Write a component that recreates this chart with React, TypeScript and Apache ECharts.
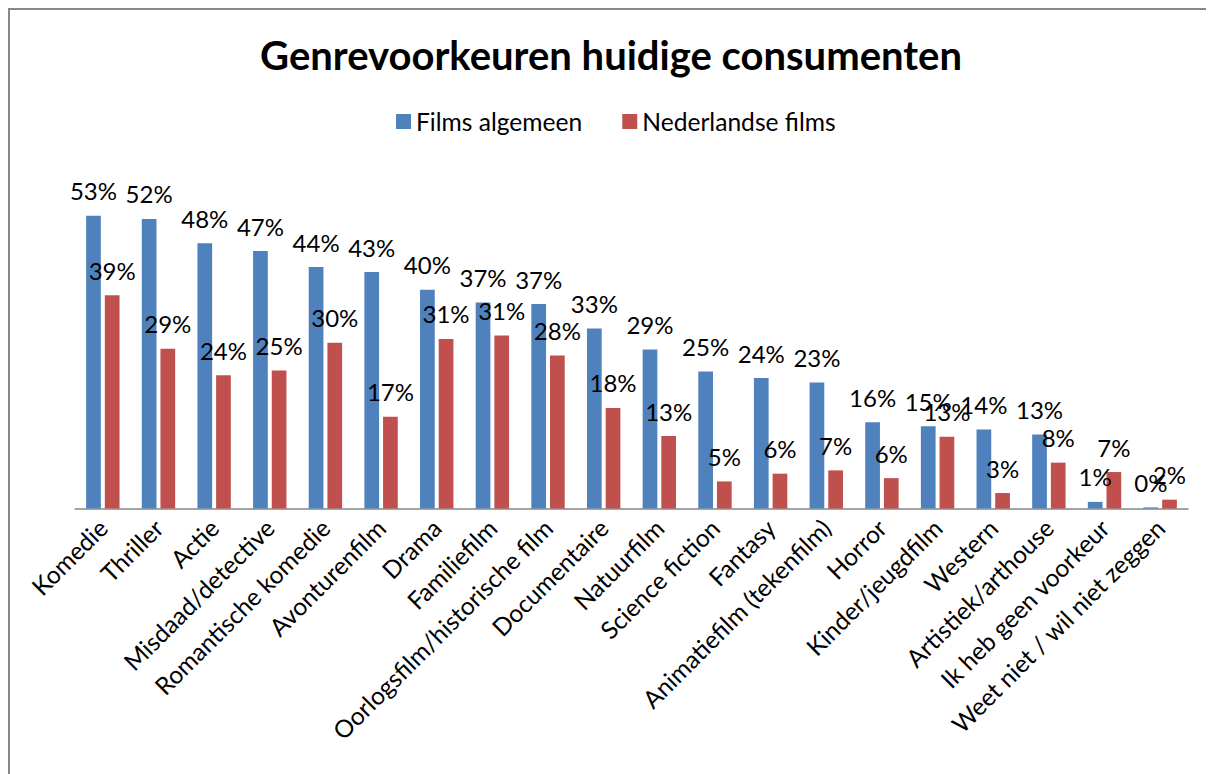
import React, { useEffect, useRef } from "react";
import * as echarts from "echarts";

const titleText = "Genrevoorkeuren huidige consumenten";
const seriesNames = ["Films algemeen", "Nederlandse films"];
const categories = [
  "Komedie",
  "Thriller",
  "Actie",
  "Misdaad/detective",
  "Romantische komedie",
  "Avonturenfilm",
  "Drama",
  "Familiefilm",
  "Oorlogsfilm/historische film",
  "Documentaire",
  "Natuurfilm",
  "Science fiction",
  "Fantasy",
  "Animatiefilm (tekenfilm)",
  "Horror",
  "Kinder/jeugdfilm",
  "Western",
  "Artistiek/arthouse",
  "Ik heb geen voorkeur",
  "Weet niet / wil niet zeggen",
];
const filmsAlgemeen = [53.0, 52.4, 48.0, 46.6, 43.7, 42.8, 39.6, 37.3, 37.0, 32.6, 28.8, 24.8, 23.6, 22.8, 15.6, 14.9, 14.3, 13.4, 1.2, 0.2];
const nederlandseFilms = [38.6, 28.9, 24.1, 25.0, 30.0, 16.6, 30.7, 31.3, 27.7, 18.2, 13.1, 4.9, 6.3, 6.9, 5.5, 13.0, 2.8, 8.3, 6.6, 1.6];
const colors = ["#4F81BD", "#C0504D"];

const FONT = "Lato, 'Liberation Sans', sans-serif";

export default function App() {
  const ref = useRef<HTMLDivElement>(null);
  useEffect(() => {
    document.body.style.overflow = "hidden";
    if (!ref.current) return;
    const chart = echarts.init(ref.current, undefined, { renderer: "svg" });
    const label = {
      show: true,
      position: "top",
      distance: 13,
      fontSize: 24,
      fontFamily: FONT,
      color: "#000",
      formatter: (p: any) => Math.round(p.value) + "%",
    };
    chart.setOption({
      animation: false,
      backgroundColor: "#fff",
      title: {
        text: titleText,
        left: "center",
        top: 27,
        padding: 0,
        textStyle: { fontSize: 40, fontWeight: "bold", fontFamily: FONT, color: "#000" },
      },
      legend: {
        data: seriesNames,
        left: 388,
        top: 101,
        padding: 0,
        itemWidth: 15,
        itemHeight: 15,
        itemGap: 40,
        icon: "rect",
        textStyle: { fontSize: 24.6, fontFamily: FONT, color: "#000" },
      },
      graphic: [
        { type: "line", shape: { x1: 1, y1: 0, x2: 1, y2: 766 }, style: { stroke: "#878787", lineWidth: 2 } },
        { type: "line", shape: { x1: 0, y1: 1, x2: 1206, y2: 1 }, style: { stroke: "#878787", lineWidth: 2 } },
      ],
      grid: { left: 67, right: 26, top: 169, bottom: 265.5 },
      xAxis: {
        type: "category",
        data: categories,
        axisLine: { lineStyle: { color: "#868686", width: 1.5 } },
        axisTick: { length: 7, lineStyle: { color: "#868686", width: 1.5 } },
        axisLabel: {
          rotate: 45,
          interval: 0,
          margin: 15,
          fontSize: 24.5,
          fontFamily: FONT,
          color: "#000",
        },
      },
      yAxis: { type: "value", min: 0, max: 60, show: false, splitLine: { show: false } },
      series: [
        {
          name: seriesNames[0],
          type: "bar",
          data: filmsAlgemeen,
          itemStyle: { color: colors[0] },
          barGap: "27%",
          barCategoryGap: "40%",
          label,
        },
        {
          name: seriesNames[1],
          type: "bar",
          data: nederlandseFilms,
          itemStyle: { color: colors[1] },
          barGap: "27%",
          barCategoryGap: "40%",
          label,
        },
      ],
    });
    return () => chart.dispose();
  }, []);
  return <div ref={ref} style={{ width: 1206, height: 766 }} />;
}
